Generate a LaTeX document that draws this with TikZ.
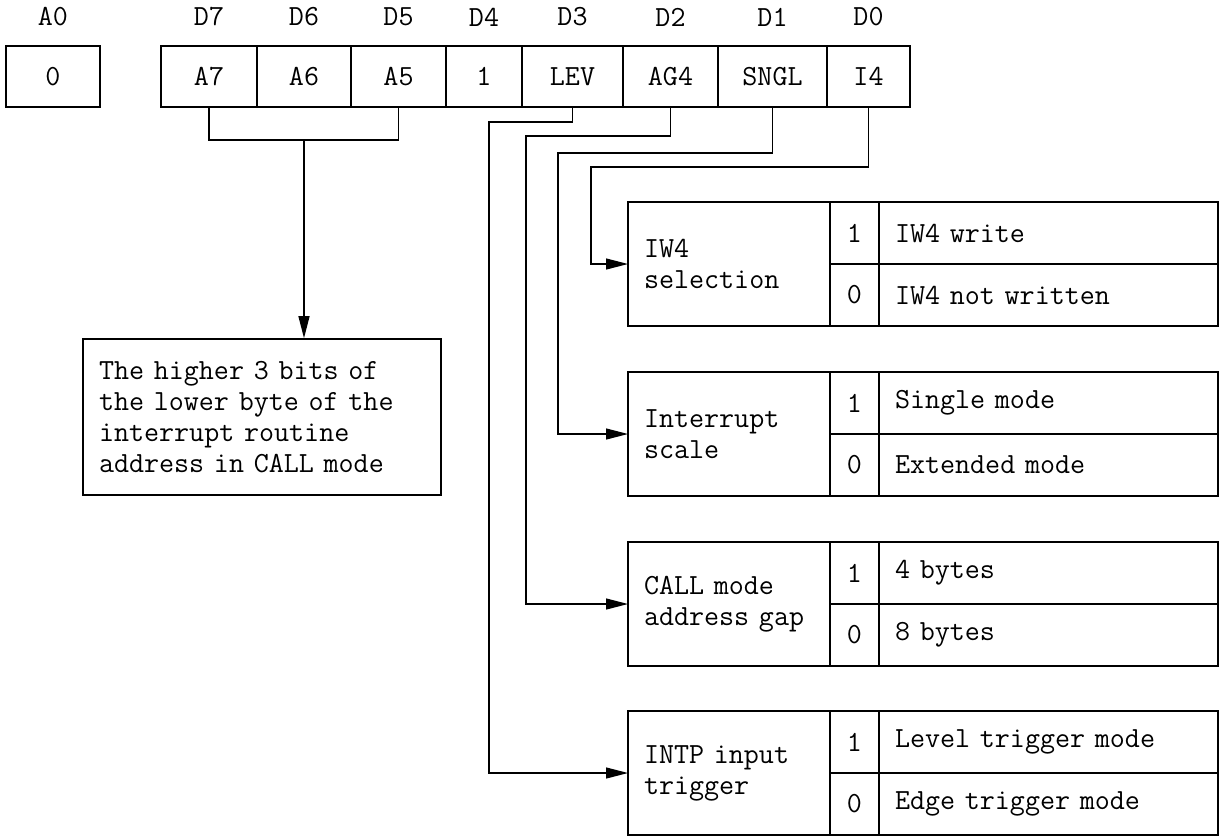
\documentclass[tikz,border=0pt]{standalone}
\usetikzlibrary{positioning,arrows.meta}

\tikzset{
  box/.style={draw, line width=0.8pt, inner sep=0pt, outer sep=0pt, align=center},
  regcell/.style={box, minimum height=30.5pt},
  bitcell/.style={box, minimum width=24.5pt, minimum height=31pt},
  namecell/.style={draw, line width=0.8pt, outer sep=0pt, minimum width=101pt, minimum height=62pt,
    text width=85pt, inner xsep=8pt, align=left},
  desccell/.style={draw, line width=0.8pt, outer sep=0pt, minimum width=169.5pt, minimum height=31pt,
    text width=153.5pt, inner xsep=8pt, inner ysep=0pt, align=left},
  lbl/.style={inner sep=0pt},
  wire/.style={line width=0.6pt},
  arr/.style={wire, -{Triangle[length=11pt,width=5.5pt]}},
}

\begin{document}
\begin{tikzpicture}[x=0.5pt, y=-0.5pt, font=\ttfamily\fontsize{14.6}{15.5}\selectfont]
  \useasboundingbox (0,0) rectangle (1223,837);

  % register and address bit
  \node[regcell, minimum width=47pt] (a0) at (53,76.5) {0};
  \node[regcell, minimum width=48pt] (a7) at (209,76.5) {A7};
  \node[regcell, minimum width=47pt, right=0pt of a7] (a6) {A6};
  \node[regcell, minimum width=47.5pt, right=0pt of a6] (a5) {A5};
  \node[regcell, minimum width=38pt, right=0pt of a5] (one) {1};
  \node[regcell, minimum width=50.5pt, right=0pt of one] (lev) {LEV};
  \node[regcell, minimum width=47.5pt, right=0pt of lev] (ag4) {AG4};
  \node[regcell, minimum width=54.5pt, right=0pt of ag4] (sngl) {SNGL};
  \node[regcell, minimum width=41.5pt, right=0pt of sngl] (i4) {I4};

  % bit labels
  \coordinate (lbly) at (0,17);
  \node[lbl] (la0) at (a0 |- lbly) {A0};
  \node[lbl] (d7) at (a7 |- lbly) {D7};
  \node[lbl] (d6) at (a6 |- lbly) {D6};
  \node[lbl] (d5) at (a5 |- lbly) {D5};
  \node[lbl] (d4) at (one |- lbly) {D4};
  \node[lbl] (d3) at (lev |- lbly) {D3};
  \node[lbl] (d2) at (ag4 |- lbly) {D2};
  \node[lbl] (d1) at (sngl |- lbly) {D1};
  \node[lbl] (d0) at (i4 |- lbly) {D0};

  % note for A7-A5
  \node[draw, line width=0.8pt, minimum width=179pt, minimum height=78pt,
    text width=163pt, align=left] (note) at (262,417)
    {The higher 3 bits of\\the lower byte of the\\interrupt routine\\address in CALL mode};

  % option tables
  \node[namecell] (iwsel) at (729,264) {IW4\\selection};
  \node[bitcell, anchor=north west] (iwsel1) at (iwsel.north east) {1};
  \node[bitcell, below=0pt of iwsel1] (iwsel0) {0};
  \node[desccell, right=0pt of iwsel1] (iwsel1d) {IW4 write};
  \node[desccell, right=0pt of iwsel0] (iwsel0d) {IW4 not written};

  \node[namecell] (intsc) at (729,434) {Interrupt\\scale};
  \node[bitcell, anchor=north west] (intsc1) at (intsc.north east) {1};
  \node[bitcell, below=0pt of intsc1] (intsc0) {0};
  \node[desccell, right=0pt of intsc1] (intsc1d) {Single mode};
  \node[desccell, right=0pt of intsc0] (intsc0d) {Extended mode};

  \node[namecell] (gap) at (729,604) {CALL mode\\address gap};
  \node[bitcell, anchor=north west] (gap1) at (gap.north east) {1};
  \node[bitcell, below=0pt of gap1] (gap0) {0};
  \node[desccell, right=0pt of gap1] (gap1d) {4 bytes};
  \node[desccell, right=0pt of gap0] (gap0d) {8 bytes};

  \node[namecell] (trig) at (729,773) {INTP input\\trigger};
  \node[bitcell, anchor=north west] (trig1) at (trig.north east) {1};
  \node[bitcell, below=0pt of trig1] (trig0) {0};
  \node[desccell, right=0pt of trig1] (trig1d) {Level trigger mode};
  \node[desccell, right=0pt of trig0] (trig0d) {Edge trigger mode};

  % connectors
  \coordinate (brk) at (0,140);
  \coordinate (levbend) at (489,122);
  \coordinate (agbend) at (526,136);
  \coordinate (snbend) at (558,153);
  \coordinate (i4bend) at (591,167);

  \draw[wire] (a7.south) -- (a7 |- brk) -- (a5 |- brk) -- (a5.south);
  \draw[arr] (a6 |- brk) -- (a6 |- note.north);
  \draw[arr] (lev.south) |- (levbend) |- (trig.west);
  \draw[arr] (ag4.south) |- (agbend) |- (gap.west);
  \draw[arr] (sngl.south) |- (snbend) |- (intsc.west);
  \draw[arr] (i4.south) |- (i4bend) |- (iwsel.west);
\end{tikzpicture}
\end{document}
